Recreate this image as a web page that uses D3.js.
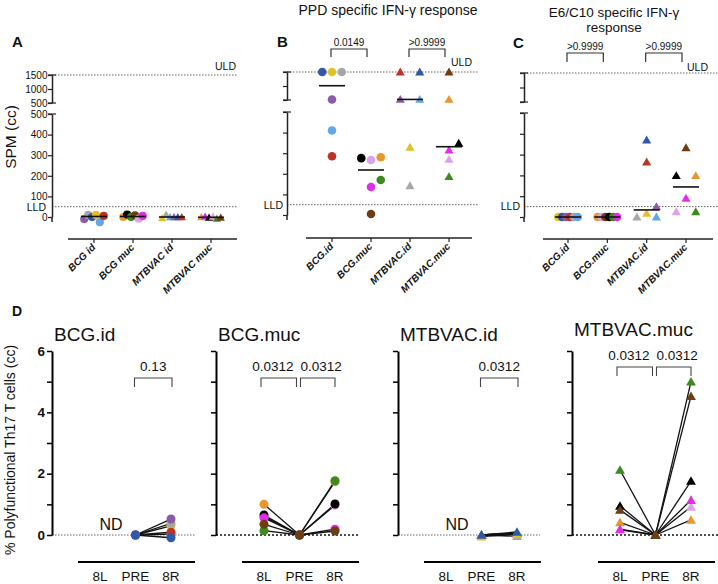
<!DOCTYPE html>
<html><head><meta charset="utf-8">
<script src="https://cdn.jsdelivr.net/npm/d3@7"></script>
<style>
body{margin:0;background:#fff}
svg{display:block}
text{font-family:"Liberation Sans",Arial,Helvetica,sans-serif;fill:#111}
</style>
</head><body>
<svg id="c" width="718" height="584"></svg>
<script>
// ================= DATA =================
const groupsA  = ["BCG id","BCG muc","MTBVAC id","MTBVAC muc"];
const groupsBC = ["BCG.id","BCG.muc","MTBVAC.id","MTBVAC.muc"];
const spmUpperTicks = [500,1000,1500];
const spmLowerTicks = [0,100,200,300,400,500];
const uld = 1500, lld = 50;

// Panel A : SPM (cc), near zero for everybody
const spmAnimals = [
  ["purple","gray","blue","yellow","lightblue","red"],
  ["orange","black","green","brown","lilac","magenta"],
  ["yellow","gray","lightblue","purple","blue","red"],
  ["orange","magenta","black","lilac","green","brown"]
];
const spmValues = [
  [-10,10,0,10,-25,5],
  [0,12,0,8,-8,5],
  [-5,12,0,0,0,0],
  [0,3,-3,2,-8,-3]
];

// Panel B : PPD specific IFN-γ
const ppdAnimals = [
  ["blue","yellow","gray","purple","lightblue","red"],
  ["black","lilac","orange","green","magenta","brown"],
  ["red","blue","purple","lightblue","yellow","gray"],
  ["brown","orange","green","lilac","magenta","black"]
];
const ppdValues = [
  [1500,1500,1500,520,410,285],
  [276,267,280,170,136,5],
  [1500,1500,520,520,329,142],
  [1500,520,186,270,315,348]
];
const ppdPvals = ["0.0149", ">0.9999"];

// Panel C : E6/C10 specific IFN-γ
const e6Animals = [
  ["yellow","blue","purple","red","gray","lightblue"],
  ["orange","lilac","brown","black","green","magenta"],
  ["gray","yellow","lightblue","purple","red","blue"],
  ["brown","black","orange","magenta","lilac","green"]
];
const e6Values = [
  [0,0,0,0,0,0],
  [0,0,0,0,0,0],
  [0,18,0,50,264,370],
  [333,199,199,90,25,25]
];
const e6Pvals = [">0.9999", ">0.9999"];
const comparisonsBC = [[0,1],[2,3]];

// Panel D : % polyfunctional Th17 T cells (cc)
const thGroups = ["BCG.id","BCG.muc","MTBVAC.id","MTBVAC.muc"];
const thTimepoints = ["8L","PRE","8R"];
const thYTicks = [0,1,2,3,4,5,6];
const thAnimals = [
  ["lightblue","yellow","red","gray","purple","blue"],
  ["lilac","orange","black","magenta","green","brown"],
  ["gray","red","purple","lightblue","yellow","blue"],
  ["lilac","orange","magenta","black","green","brown"]
];
const th8L = [
  [null,null,null,null,null,null],
  [0.60,1.00,0.65,0.56,0.14,0.35],
  [null,null,null,null,null,null],
  [0.17,0.41,0.19,0.95,2.12,0.82]
];
const thPRE = [
  [0,0,0,0,0,0],
  [0,0,0,0,0,0],
  [0,0,0,0,-0.05,0],
  [0,0,0,0,0,0]
];
const th8R = [
  [0.03,0.30,0.09,0.38,0.52,-0.09],
  [0.97,1.74,1.01,0.19,1.77,0.13],
  [-0.04,0.05,0.06,0.07,0.03,0.10],
  [0.92,0.49,1.14,1.76,5.00,4.53]
];
const thND = [true,false,true,false];
const thComparisons = [
  [["PRE","8R","0.13"]],
  [["8L","PRE","0.0312"],["PRE","8R","0.0312"]],
  [["PRE","8R","0.0312"]],
  [["8L","PRE","0.0312"],["PRE","8R","0.0312"]]
];

// ================= STYLE =================
const color = {
  blue:"#2f58a6", yellow:"#e2c128", gray:"#a7a7a7", purple:"#8b5ba8",
  lightblue:"#62a8e6", red:"#bd3325", orange:"#e8972f", black:"#000000",
  green:"#3d8a1e", brown:"#6d3e13", lilac:"#dda3e8", magenta:"#e12de9"
};
const FONT = '"Liberation Sans",Arial,Helvetica,sans-serif';
const svg = d3.select("#c");

function dotted(g, x1, x2, y, dark) {
  g.append("line").attr("x1",x1).attr("x2",x2).attr("y1",y).attr("y2",y)
    .attr("stroke", dark ? "#111" : "#666")
    .attr("stroke-width", dark ? 1.6 : 1)
    .attr("stroke-dasharray", dark ? "2,2" : "1.5,1.5");
}

// simple beeswarm resembling GraphPad layout
function swarm(pts, W, collide) {
  const sorted = pts.slice().sort((a,b) => b.y - a.y || a.idx - b.idx);
  const rows = []; let cur = null;
  sorted.forEach(p => {
    if (cur && Math.abs(p.y - cur[cur.length-1].y) < 5) cur.push(p);
    else { cur = [p]; rows.push(cur); }
  });
  const placed = [];
  rows.forEach(row => {
    row.sort((a,b) => a.idx - b.idx);
    if (row.length > 1) {
      row.forEach((p,i) => { p.dx = -W/2 + i*W/(row.length-1); placed.push(p); });
    } else {
      const p = row[0];
      const cands = [0, W/2, -W/2, W, -W];
      p.dx = 0;
      for (const c of cands) {
        if (placed.every(q => Math.hypot(q.dx - c, q.y - p.y) >= collide)) { p.dx = c; break; }
      }
      placed.push(p);
    }
  });
}

// ================= PANELS A, B, C =================
const layoutABC = [
  {letter:"A", lx:12, ly:47, axisX:52, y1500:75, y500u:103, y500l:114, y0:217, xAxisY:239,
   xLine:[68,237], cats:[94,211], dotEnd:237, labels:true, uld:[236,70], lld:[46,211],
   r:4.1, tri:30, bTop:49, bBot:57},
  {letter:"B", lx:277, ly:47, axisX:287, y1500:72, y500u:100, y500l:112, y0:215, xAxisY:238,
   xLine:[306,472], cats:[332,449], dotEnd:478, labels:false, uld:[472,66], lld:[283,209],
   r:4.3, tri:36, bTop:49, bBot:57},
  {letter:"C", lx:513, ly:48, axisX:524, y1500:73, y500u:102, y500l:113, y0:217, xAxisY:239,
   xLine:[543,713], cats:[568,686], dotEnd:718, labels:false, uld:[708,71], lld:[520,210],
   r:4.3, tri:36, bTop:53, bBot:62}
];
const panelData = [
  {names:groupsA, animals:spmAnimals, values:spmValues, pvals:null},
  {names:groupsBC, animals:ppdAnimals, values:ppdValues, pvals:ppdPvals},
  {names:groupsBC, animals:e6Animals, values:e6Values, pvals:e6Pvals}
];

layoutABC.forEach((cfg, pi) => {
  const d = panelData[pi];
  const g = svg.append("g");
  const up = d3.scaleLinear([500,1500],[cfg.y500u, cfg.y1500]);
  const low = d3.scaleLinear([0,500],[cfg.y0, cfg.y500l]);
  const yv = v => v > 500 ? up(v) : low(v);
  const x = d3.scalePoint(d.names, cfg.cats);

  // letter
  g.append("text").attr("x",cfg.lx).attr("y",cfg.ly).attr("font-size",15).attr("font-weight","bold").text(cfg.letter);

  // ULD / LLD
  dotted(g, cfg.axisX, cfg.dotEnd, up(uld), false);
  dotted(g, cfg.axisX, cfg.dotEnd, low(lld), false);
  g.append("text").attr("x",cfg.uld[0]).attr("y",cfg.uld[1]).attr("text-anchor","end").attr("font-size",10.5).text("ULD");
  g.append("text").attr("x",cfg.lld[0]).attr("y",cfg.lld[1]).attr("text-anchor","end").attr("font-size",10.5).text("LLD");

  // broken y axis
  const fmt = cfg.labels ? d3.format("d") : () => "";
  const gu = g.append("g").attr("transform",`translate(${cfg.axisX},0)`)
    .call(d3.axisLeft(up).tickValues(spmUpperTicks).tickSize(4).tickSizeOuter(0).tickFormat(fmt));
  const gl = g.append("g").attr("transform",`translate(${cfg.axisX},0)`)
    .call(d3.axisLeft(low).tickValues(spmLowerTicks).tickSize(4).tickSizeOuter(0).tickFormat(fmt));
  [gu, gl].forEach(a => {
    a.attr("font-family", FONT).attr("font-size", 10);
    a.select(".domain").attr("stroke","#222").attr("stroke-width",1.5);
    a.selectAll(".tick line").attr("stroke","#222").attr("stroke-width",1.2);
    a.selectAll(".tick text").attr("fill","#222").attr("x",-4.5);
  });
  g.append("line").attr("x1",cfg.axisX).attr("x2",cfg.axisX).attr("y1",cfg.y0).attr("y2",cfg.y0+5)
    .attr("stroke","#222").attr("stroke-width",1.5);
  [cfg.y1500, cfg.y500u, cfg.y500l].forEach(yy => {
    g.append("line").attr("x1",cfg.axisX-4).attr("x2",cfg.axisX+4).attr("y1",yy).attr("y2",yy)
      .attr("stroke","#222").attr("stroke-width",1.2);
  });
  if (cfg.labels) {
    g.append("text").attr("transform",`translate(16,137) rotate(-90)`).attr("text-anchor","middle")
      .attr("font-size",15.5).text("SPM (cc)");
  }

  // x axis
  g.append("line").attr("x1",cfg.xLine[0]).attr("x2",cfg.xLine[1]).attr("y1",cfg.xAxisY).attr("y2",cfg.xAxisY)
    .attr("stroke","#222").attr("stroke-width",1.5);
  d.names.forEach(n => {
    g.append("line").attr("x1",x(n)).attr("x2",x(n)).attr("y1",cfg.xAxisY).attr("y2",cfg.xAxisY+4)
      .attr("stroke","#222").attr("stroke-width",1.2);
    g.append("text").attr("transform",`translate(${x(n)+2},${cfg.xAxisY+9}) rotate(-45)`)
      .attr("text-anchor","end").attr("font-size",10).attr("font-weight","bold").attr("font-style","italic")
      .text(n);
  });

  // points
  d.names.forEach((n, gi) => {
    const pts = d.values[gi].map((v,i) => ({v, y:yv(v), idx:i, animal:d.animals[gi][i]}));
    swarm(pts, 19.5, 8.6);
    const sym = d3.symbol().type(gi < 2 ? d3.symbolCircle : d3.symbolTriangle)
      .size(gi < 2 ? Math.PI*cfg.r*cfg.r : cfg.tri);
    pts.sort((a,b) => a.idx - b.idx).forEach(p => {
      g.append("path").attr("d", sym()).attr("fill", color[p.animal])
        .attr("transform", `translate(${x(n)+p.dx},${p.y + (gi<2?0:0.8)})`);
    });
    const med = d3.median(d.values[gi]);
    g.append("line").attr("x1",x(n)-13).attr("x2",x(n)+13).attr("y1",yv(med)).attr("y2",yv(med))
      .attr("stroke","#111").attr("stroke-width",1.6);
  });

  // brackets
  if (d.pvals) {
    comparisonsBC.forEach((c, k) => {
      const x1 = x(d.names[c[0]]) - 1, x2 = x(d.names[c[1]]) - 4;
      g.append("path").attr("d",`M${x1},${cfg.bBot}V${cfg.bTop}H${x2}V${cfg.bBot}`)
        .attr("fill","none").attr("stroke","#333").attr("stroke-width",1.2);
      g.append("text").attr("x",(x1+x2)/2).attr("y",cfg.bTop-3).attr("text-anchor","middle")
        .attr("font-size",10).text(d.pvals[k]);
    });
  }
});

// titles for B and C
svg.append("text").attr("x",388).attr("y",15).attr("text-anchor","middle").attr("font-size",14)
  .text("PPD specific IFN-\u03B3 response");
svg.append("text").attr("x",614).attr("y",17).attr("text-anchor","middle").attr("font-size",13.5)
  .text("E6/C10 specific IFN-\u03B3");
svg.append("text").attr("x",614).attr("y",32).attr("text-anchor","middle").attr("font-size",13.5)
  .text("response");

// ================= PANEL D =================
const dAxisX = [52,216,398,572];
const dTitleY = [341,341,341,336];
const dBracketTop = [378,378,378,367];
const dDarkZero = [false,true,false,true];
const dZeroEnd = [195,360,540,718];
const yD = d3.scaleLinear([0,6],[535,351]);

svg.append("text").attr("x",12).attr("y",316).attr("font-size",14).attr("font-weight","bold").text("D");
svg.append("text").attr("transform","translate(15,450) rotate(-90)").attr("text-anchor","middle")
  .attr("font-size",14).text("% Polyfunctional Th17 T cells (cc)");

thGroups.forEach((name, gi) => {
  const ax = dAxisX[gi];
  const g = svg.append("g");
  const x = d3.scalePoint(thTimepoints, [ax+48, ax+119]);

  g.append("text").attr("x",ax+2).attr("y",dTitleY[gi]).attr("font-size",19).text(name);

  dotted(g, ax, dZeroEnd[gi], yD(0), dDarkZero[gi]);

  const ya = g.append("g").attr("transform",`translate(${ax},0)`)
    .call(d3.axisLeft(yD).tickValues(thYTicks).tickSize(5).tickSizeOuter(0)
      .tickFormat(v => (gi === 0 && v % 2 === 0) ? String(v) : ""));
  ya.attr("font-family", FONT).attr("font-size", 13.5).attr("font-weight","bold");
  ya.select(".domain").attr("stroke","#000").attr("stroke-width",2);
  ya.selectAll(".tick line").attr("stroke","#000").attr("stroke-width",1.5);
  ya.selectAll(".tick text").attr("fill","#000").attr("x",-7);

  g.append("line").attr("x1",ax+26).attr("x2",ax+143).attr("y1",562).attr("y2",562)
    .attr("stroke","#000").attr("stroke-width",2);
  thTimepoints.forEach(t => {
    g.append("text").attr("x",x(t)).attr("y",581).attr("text-anchor","middle").attr("font-size",13.5).text(t);
  });

  if (thND[gi]) {
    g.append("text").attr("x",x("8L")+11).attr("y",530).attr("text-anchor","middle").attr("font-size",16).text("ND");
  }

  const series = thAnimals[gi].map((a,i) => ({animal:a, vals:[th8L[gi][i], thPRE[gi][i], th8R[gi][i]]}));
  const isTri = gi >= 2;
  const triOff = isTri ? 1 : 0;
  series.forEach(s => {
    for (let k = 0; k < 2; k++) {
      const v1 = s.vals[k], v2 = s.vals[k+1];
      if (v1 === null || v2 === null) continue;
      g.append("line").attr("x1",x(thTimepoints[k])).attr("x2",x(thTimepoints[k+1]))
        .attr("y1",yD(v1)).attr("y2",yD(v2)).attr("stroke","#111").attr("stroke-width",1.3);
    }
  });
  const sym = d3.symbol().type(isTri ? d3.symbolTriangle : d3.symbolCircle).size(isTri ? 42 : 64);
  series.forEach(s => {
    s.vals.forEach((v,k) => {
      if (v === null) return;
      g.append("path").attr("d",sym()).attr("fill",color[s.animal])
        .attr("transform",`translate(${x(thTimepoints[k])},${yD(v)+triOff})`);
    });
  });

  // brackets
  const top = dBracketTop[gi];
  const comps = thComparisons[gi];
  comps.forEach((c, k) => {
    let x1 = x(c[0]) - 1, x2 = x(c[1]) + 1;
    if (comps.length === 2) { if (k === 0) { x1 = x(c[0]) - 3; x2 = x(c[1]) - 3; } else { x1 = x(c[0]) + 1; x2 = x(c[1]); } }
    g.append("path").attr("d",`M${x1},${top+9}V${top}H${x2}V${top+9}`)
      .attr("fill","none").attr("stroke","#444").attr("stroke-width",1.1);
    const t = g.append("text").attr("y",top-7).attr("font-size",13.5).text(c[2]);
    if (comps.length === 2) {
      if (k === 0) t.attr("x",x2-3).attr("text-anchor","end");
      else t.attr("x",x1).attr("text-anchor","start");
    } else {
      t.attr("x",(x1+x2)/2).attr("text-anchor","middle");
    }
  });
});
</script>
</body></html>
